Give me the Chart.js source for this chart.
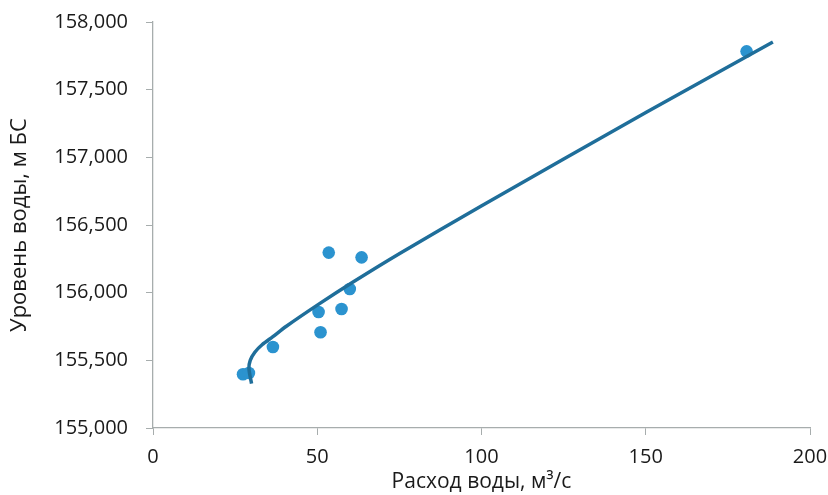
<!DOCTYPE html>
<html>
<head>
<meta charset="utf-8">
<script src="https://cdn.jsdelivr.net/npm/chart.js@4.4.1/dist/chart.umd.min.js"></script>
<style>
  html, body { margin: 0; padding: 0; background: #fff; }
  #wrap { width: 828px; height: 495px; }
</style>
</head>
<body>
<div id="wrap"><canvas id="myChart"></canvas></div>
<script>
// measured points: water discharge (m3/s) and water level (m BS)
const flowObs = [27.4, 29.2, 36.5, 50.4, 51.0, 53.5, 57.4, 59.9, 63.5, 180.7];
const levelObs = [155.397, 155.406, 155.599, 155.857, 155.707, 156.296, 155.879, 156.027, 156.261, 157.783];

// rating curve
const flowCurve = [30.0, 29.2, 29.6, 31.0, 33.2, 36.5, 40.6, 50.7, 60.9, 75.1, 99.8, 150.3, 188.7];
const levelCurve = [155.328, 155.440, 155.500, 155.560, 155.615, 155.675, 155.752, 155.919, 156.079, 156.290, 156.638, 157.335, 157.852];

const xTicks = [0, 50, 100, 150, 200];
const yTicks = [155.0, 155.5, 156.0, 156.5, 157.0, 157.5, 158.0];

const xTitle = 'Расход воды, м³/с';
const yTitle = 'Уровень воды, м БС';

const axisColor = '#a7adad';
const textColor = '#1a1a1a';

Chart.defaults.font.family = '"Open Sans", sans-serif';
Chart.defaults.font.size = 20;
Chart.defaults.color = textColor;

const ctx = document.getElementById('myChart');

new Chart(ctx, {
    type: 'scatter',
    data: {
        datasets: [
            {
                label: 'curve',
                data: flowCurve.map((x, i) => ({ x: x, y: levelCurve[i] })),
                showLine: true,
                borderColor: '#1f6e9a',
                borderWidth: 3.5,
                pointRadius: 0,
                tension: 0.3,
                fill: false
            },
            {
                label: 'obs',
                data: flowObs.map((x, i) => ({ x: x, y: levelObs[i] })),
                backgroundColor: '#2b93cf',
                borderWidth: 0,
                pointRadius: 6.3
            }
        ]
    },
    options: {
        responsive: true,
        maintainAspectRatio: false,
        animation: false,
        layout: { padding: { top: 22, right: 18, left: 0, bottom: 0 } },
        plugins: {
            legend: { display: false },
            tooltip: { enabled: false }
        },
        scales: {
            x: {
                type: 'linear',
                min: 0,
                max: 200,
                afterBuildTicks: (axis) => { axis.ticks = xTicks.map(v => ({ value: v })); },
                afterFit: (axis) => {
                    axis.height = 67;
                    axis.paddingLeft = 0;
                    axis.paddingRight = 0;
                },
                grid: { drawOnChartArea: false, color: axisColor, tickLength: 7 },
                border: { color: axisColor, width: 1.3 },
                ticks: { padding: 10, color: textColor },
                title: { display: true, text: xTitle, color: textColor, font: { size: 21 }, padding: { top: 0, bottom: 0 } }
            },
            y: {
                type: 'linear',
                min: 155,
                max: 158,
                afterBuildTicks: (axis) => { axis.ticks = yTicks.map(v => ({ value: v })); },
                afterFit: (axis) => {
                    axis.width = 153;
                    axis.paddingTop = 0;
                    axis.paddingBottom = 0;
                },
                grid: { drawOnChartArea: false, color: axisColor, tickLength: 7 },
                border: { color: axisColor, width: 1.3 },
                ticks: {
                    padding: 18,
                    color: textColor,
                    callback: (v) => v.toFixed(3).replace('.', ',')
                },
                title: { display: true, text: yTitle, color: textColor, font: { size: 22 }, padding: { top: 7, bottom: 0 } }
            }
        }
    }
});
</script>
</body>
</html>
